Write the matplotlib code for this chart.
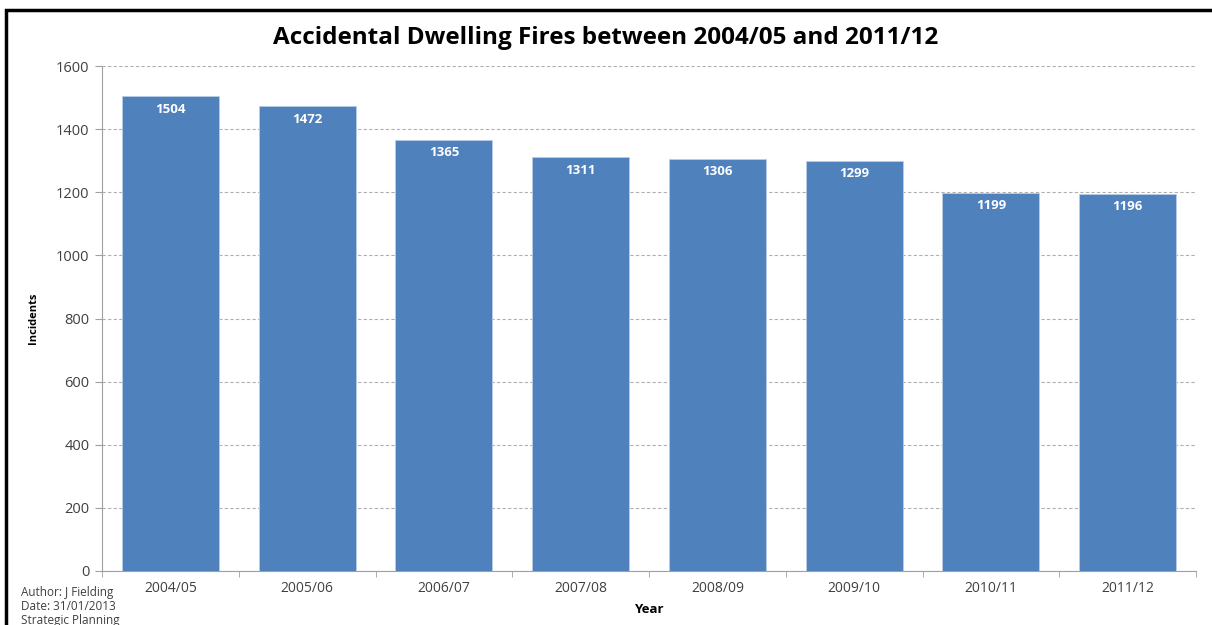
import numpy as np
import matplotlib.pyplot as plt
from matplotlib.patches import Rectangle

# Chart data
years = ["2004/05", "2005/06", "2006/07", "2007/08", "2008/09", "2009/10", "2010/11", "2011/12"]
incidents = [1504, 1472, 1365, 1311, 1306, 1299, 1199, 1196]
yTicks = [0, 200, 400, 600, 800, 1000, 1200, 1400, 1600]
footer = ["Author: J Fielding", "Date: 31/01/2013", "Strategic Planning"]

plt.rcParams['font.family'] = ['Open Sans', 'DejaVu Sans']

fig = plt.figure(figsize=[12.12, 6.25], dpi=100)
axes = fig.add_axes([0.0842, 0.0864, 0.9026, 0.808])

x = np.arange(len(years))
bars = axes.bar(x, incidents, width=0.71, color="#4f81bd", edgecolor="#b9cde5", linewidth=0.6, zorder=3)

# Value labels inside bar tops
for rect, val in zip(bars, incidents):
    axes.text(rect.get_x() + rect.get_width() / 2, val - 20, str(val), ha="center", va="top",
              color="white", fontsize=9.5, fontweight="bold", zorder=4)

axes.set_xlim(-0.5, len(years) - 0.5)
axes.set_ylim(0, 1600)
axes.set_yticks(yTicks)
axes.set_yticklabels([str(t) for t in yTicks], fontsize=10.5, color="#404040")
axes.set_xticks(x)
axes.set_xticklabels(years, fontsize=10, color="#404040")
axes.set_xticks(np.arange(-0.5, len(years), 1), minor=True)
axes.tick_params(axis="x", which="major", length=0, pad=7)
axes.tick_params(axis="x", which="minor", length=4, color="#a0a0a0")
axes.tick_params(axis="y", length=5, color="#a0a0a0", pad=4)

axes.grid(axis="y", linestyle=(0, (3, 2)), color="#b0b0b0", linewidth=0.8, zorder=0)
for side in ["top", "right"]:
    axes.spines[side].set_visible(False)
for side in ["left", "bottom"]:
    axes.spines[side].set_color("#a0a0a0")

axes.set_xlabel("Year", fontsize=9.5, fontweight="bold", labelpad=5)
axes.set_ylabel("Incidents", fontsize=8, fontweight="bold", labelpad=12)

fig.text(0.5, 0.94, "Accidental Dwelling Fires between 2004/05 and 2011/12", ha="center", va="center",
         fontsize=17.5, fontweight="bold", color="black")

# Footer notes
for i, line in enumerate(footer):
    fig.text(0.017, 1 - (596 + 14 * i) / 625, line, ha="left", va="baseline", fontsize=8.5, color="#404040")

# Border around chart area
fig.patches.append(Rectangle((0.005, -0.1), 1.2, 1.084, transform=fig.transFigure, fill=False,
                             edgecolor="black", linewidth=2.5))

plt.savefig("out.png", dpi=100)
